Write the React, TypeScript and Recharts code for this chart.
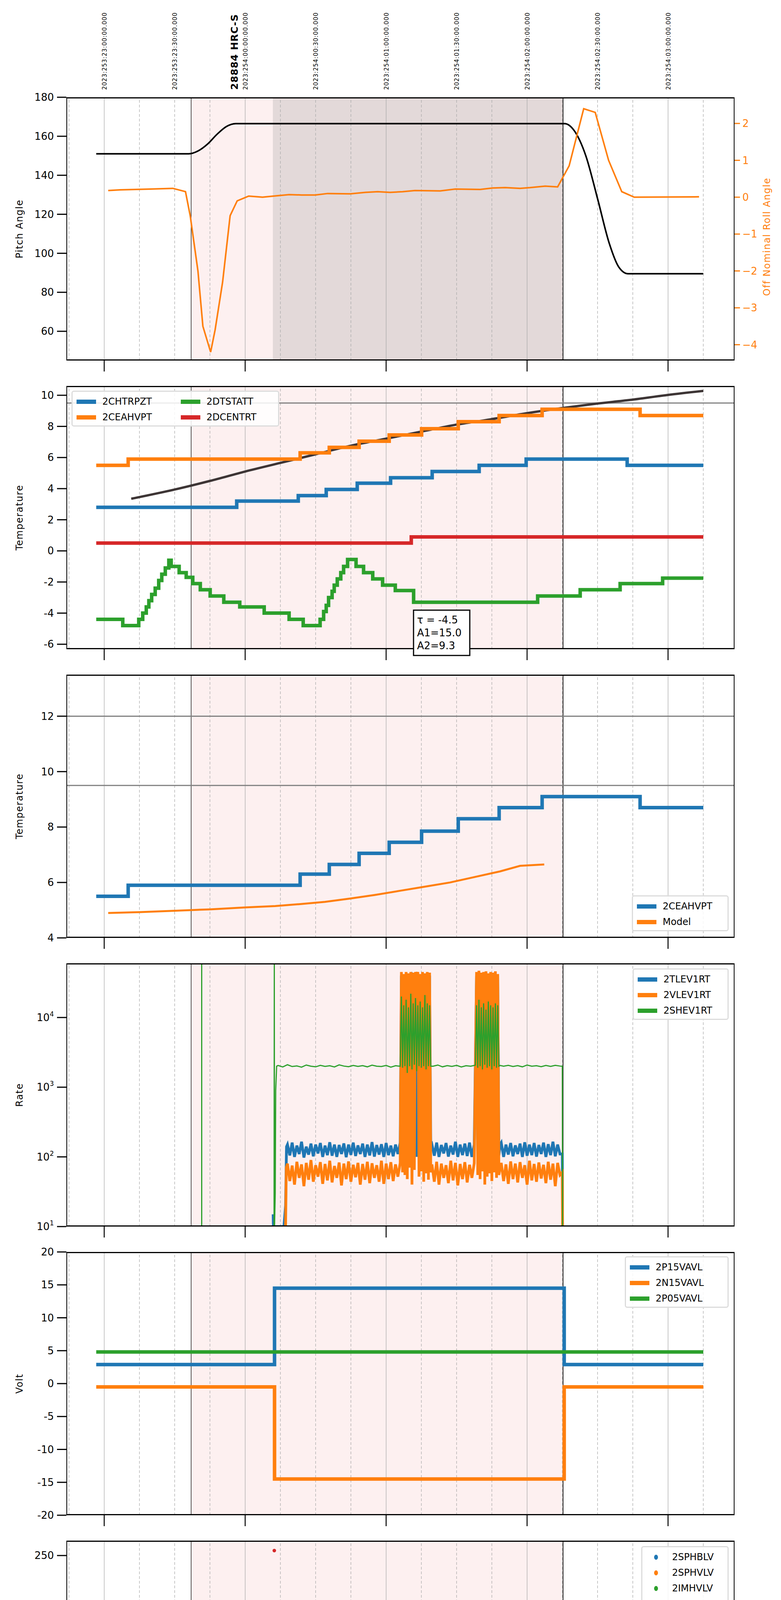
import React from 'react';
import {
  ComposedChart,
  Line,
  Scatter,
  XAxis,
  YAxis,
  ReferenceLine,
  ReferenceArea,
} from 'recharts';

type Pt = { t: number | null; v: number | null };

const C_BLUE = '#1f77b4';
const C_ORANGE = '#ff7f0e';
const C_GREEN = '#2ca02c';
const C_RED = '#d62728';

// time axis: minutes after 19:00 local
const X_MIN = -16.1;
const X_MAX = 268.3;
const PLOT_L = 170;
const PLOT_R = 1881;
const PLOT_H = 674;
const PAD_TOP = 24;
const PANEL_TOP = [249, 988, 1727, 2466, 3205, 3944, 4683, 5421];
const OBS_START = 37;
const OBS_END = 195.3;
const RADMON_START = 71.8;

const quarterTicks = [-15, 0, 15, 30, 45, 60, 75, 90, 105, 120, 135, 150, 165, 180, 195, 210, 225, 240, 255];
const hourTicks = [0, 60, 120, 180, 240];
const topStamps = [
  [0, '2023:253:23:00:00.000'],
  [30, '2023:253:23:30:00.000'],
  [60, '2023:254:00:00:00.000'],
  [90, '2023:254:00:30:00.000'],
  [120, '2023:254:01:00:00.000'],
  [150, '2023:254:01:30:00.000'],
  [180, '2023:254:02:00:00.000'],
  [210, '2023:254:02:30:00.000'],
  [240, '2023:254:03:00:00.000'],
] as const;

const pts = (arr: number[][]): Pt[] => arr.map(([t, v]) => ({ t, v }));
const seg = (t0: number, dt: number, vals: number[]): number[][] => vals.map((v, i) => [t0 + i * dt, v]);

// ---- panel 1: pitch / roll
const pitch = pts([[-3.4, 151], [36, 151], [40, 152.5], [44, 156], [48, 161], [52, 165], [56, 166.5], [196, 166.5], [200, 163], [205, 150], [210, 128], [215, 105], [219, 93], [223, 89.5], [255, 89.5]]);
const roll = pts([[1.7, 0.18], [6.8, 0.2], [19.6, 0.22], [29.2, 0.24], [34.6, 0.15], [36.6, -0.5], [39.9, -2], [42, -3.5], [45.3, -4.2], [47.2, -3.6], [50.4, -2.3], [53.6, -0.5], [56.6, -0.1], [61.5, 0.03], [67.4, 0.0], [73.8, 0.04], [78.7, 0.07], [84, 0.06], [89.8, 0.06], [95.1, 0.1], [104.7, 0.09], [111.1, 0.13], [116.4, 0.15], [121.7, 0.13], [127, 0.15], [132.3, 0.18], [143, 0.17], [149.4, 0.22], [160, 0.21], [165.4, 0.25], [170.7, 0.26], [177, 0.24], [181.3, 0.26], [187.7, 0.3], [193, 0.28], [197.9, 0.85], [204.1, 2.4], [209, 2.3], [214.7, 1.0], [220.3, 0.15], [225.6, 0.0], [253.2, 0.01]]);

// ---- panel 2: temperatures
const chtrpzt = pts([[-3.4, 2.8], [56.4, 3.2], [82.6, 3.55], [94.5, 3.95], [107.7, 4.35], [121.9, 4.7], [139.6, 5.1], [159.6, 5.5], [179.6, 5.9], [222.6, 5.5], [255, 5.5]]);
const ceahvpt = pts([[-3.4, 5.5], [10.2, 5.9], [83.4, 6.3], [95.8, 6.65], [108.5, 7.05], [121.3, 7.45], [135.1, 7.85], [150.7, 8.3], [168.1, 8.7], [186.4, 9.1], [228.1, 8.7], [255, 8.7]]);
const dcentrt = pts([[-3.4, 0.5], [130.7, 0.9], [255, 0.9]]);
const dtstatt = pts([[-3.4, -4.4], [7.9, -4.8], [14.7, -4.4], [16.4, -4.0], [17.9, -3.6], [19, -3.2], [20.2, -2.8], [21.7, -2.4], [23.2, -1.9], [24.5, -1.5], [26, -1.1], [27.5, -0.6], [28.5, -1.0], [31.9, -1.4], [34.9, -1.7], [37.7, -2.1], [40.9, -2.5], [45.1, -2.9], [50.9, -3.3], [57.7, -3.6], [68.1, -4.0], [78.7, -4.4], [84.7, -4.8], [91.9, -4.4], [93.4, -3.9], [94.5, -3.5], [95.5, -3.0], [97, -2.6], [97.9, -2.2], [99.2, -1.8], [100.7, -1.4], [101.9, -1.0], [103.6, -0.55], [107.2, -1.0], [110.4, -1.4], [114.3, -1.8], [118.5, -2.2], [123.9, -2.55], [131.7, -2.9], [131.7, -3.3], [184.5, -2.9], [202.6, -2.5], [219.6, -2.1], [237.7, -1.75], [255, -1.75]]);
const tempModel = pts([[11.5, 3.35], [30.2, 3.95], [45.1, 4.5], [60, 5.1], [74.9, 5.65], [89.8, 6.2], [104.7, 6.75], [119.6, 7.2], [134.5, 7.65], [149.4, 8.1], [164.3, 8.45], [179.2, 8.83], [195.1, 9.18], [209, 9.45], [223.9, 9.7], [238.8, 10.0], [255, 10.28]]);

// ---- panel 3: 2CEAHVPT vs model
const ceaModel = pts([[1.7, 4.9], [15.3, 4.93], [30.2, 4.98], [45.1, 5.03], [60, 5.1], [72.8, 5.15], [83.4, 5.22], [94, 5.3], [104.7, 5.42], [115.3, 5.55], [125.9, 5.7], [136.6, 5.85], [147.2, 6.0], [157.9, 6.2], [168.5, 6.4], [177, 6.6], [187.3, 6.65]]);

// ---- panel 4: rates
const tlevRate = pts([
  [71.9, 15], [72.0, 10], [76.5, 10], [77.2, 20], [77.6, 140],
  ...seg(78, 1, [150, 105, 160, 100, 145, 110, 165, 98, 140, 108, 155, 102, 150, 112, 158, 100, 145, 106, 162, 104, 150, 100, 148, 110, 156, 99, 150, 107, 160, 103, 146, 110, 155, 100, 150, 105, 163, 101, 148, 108, 152, 100, 158, 106, 145, 102, 150, 110, 160]),
  ...seg(126.5, 0.5, [40000, 110, 40000, 120, 40000, 35000, 40000, 105, 40000, 115, 40000, 38000, 40000, 100, 40000, 125, 40000, 40000, 39000, 110, 40000, 130, 40000, 105, 40000, 140]),
  ...seg(139.5, 1, [150, 104, 160, 100, 148, 112, 158, 101, 145, 108, 165, 100, 150, 106, 155, 103, 160, 100, 150]),
  ...seg(158.5, 0.5, [40000, 120, 40000, 130, 40000, 110, 40000, 150, 38000, 125, 40000, 100, 40000, 140, 40000, 115, 40000, 130, 40000, 105, 150]),
  ...seg(169, 1, [160, 100, 150, 108, 158, 102, 146, 110, 155, 100, 162, 104, 150, 106, 158, 101, 148, 110, 160, 100, 152, 106, 165, 102, 150, 110]),
  [195, 110], [195.1, 10],
]);
const vlevRate = pts([
  [77.2, 10], [77.5, 70],
  ...seg(78, 1, [80, 45, 75, 40, 85, 50, 78, 38, 82, 47, 90, 44, 76, 52, 84, 41, 79, 46, 88, 43, 74, 50, 83, 39, 80, 48, 86, 44, 77, 51, 82, 40, 79, 47, 85, 42, 81, 50, 76, 44, 88, 41, 80, 48, 84, 45, 78, 52, 82]),
  ...seg(126.5, 0.5, [45000, 60, 42000, 55, 45000, 48, 43000, 70, 45000, 40, 44000, 65, 45000, 35000, 45000, 52, 42000, 62, 45000, 44, 43000, 58, 45000, 47, 44000, 60]),
  ...seg(139.5, 1, [78, 44, 85, 40, 80, 50, 76, 42, 88, 46, 82, 39, 79, 48, 84, 43, 77, 50, 81]),
  ...seg(158.5, 0.5, [45000, 55, 47000, 48, 44000, 62, 45000, 40, 46000, 52, 43000, 58, 45000, 45, 44000, 60, 46000, 50, 42000, 55, 70]),
  ...seg(169, 1, [82, 45, 78, 41, 86, 48, 80, 43, 84, 50, 76, 40, 88, 46, 79, 44, 83, 49, 77, 42, 85, 47, 80, 38, 82, 55]),
  [195, 60], [195.1, 10],
]);
const shevRate: Pt[] = [
  ...pts([[41.5, 10], [41.5, 60000]]),
  { t: 41.6, v: null },
  ...pts([
    [72.3, 10], [72.4, 60000], [72.5, 10], [72.8, 30], [73.0, 900], [73.4, 2000],
    ...seg(74, 2, [2050, 1950, 2100, 1980, 2020, 1940, 2080, 2000, 1960, 2060, 1990, 2030, 1950, 2090, 2010, 1970, 2050, 1990, 2040, 1960, 2070, 2000, 1980, 2050, 1940, 2030, 2000]),
    ...seg(126.5, 0.5, [20000, 1900, 15000, 2000, 18000, 1600, 14000, 2000, 22000, 1800, 16000, 2100, 19000, 1700, 15000, 2000, 17000, 1900, 14000, 2000, 21000, 1800, 16000, 2000, 15000, 2000]),
    ...seg(140, 2, [2000, 2080, 1960, 2040, 1990, 2060, 1950, 2030, 2000, 2070]),
    ...seg(158.5, 0.5, [15000, 1900, 18000, 2000, 14000, 1800, 16000, 2100, 13000, 1900, 17000, 2000, 15000, 1800, 14000, 2000, 16000, 1900, 15000, 2000, 2050]),
    ...seg(170, 2, [2000, 2060, 1980, 2040, 1960, 2080, 2000, 2030, 1970, 2050, 1990, 2060, 2010]),
    [195, 2000], [195.1, 10],
  ]),
];

// ---- panel 5: voltages
const p15 = pts([[-3.4, 2.9], [72.5, 14.5], [195.8, 2.9], [255, 2.9]]);
const n15 = pts([[-3.4, -0.5], [72.5, -14.5], [195.8, -0.5], [255, -0.5]]);
const p05 = pts([[-3.4, 4.8], [255, 4.8]]);

// ---- panel 6: HV monitors
const sphblvBand = pts([[77.5, 78], [195, 78]]);
const sphvlvBand = pts([[77.3, 70.5], [195, 70.5]]);
const sphblvDots = pts([[74.7, 118], [75.1, 102], [75.3, 101], [76.0, 97], [76.4, 92], [76.8, 87], [77.5, 82]]);
const sphvlvDots = pts([[74.7, 127], [75.3, 96], [75.7, 91], [76.2, 85], [76.6, 80], [77.3, 74], [129.8, 127], [130.4, 127], [131, 127], [131.5, 127], [134.2, 127], [158.5, 127], [161.1, 127]]);
const imhvlvDots: Pt[] = [];
const imhblvDots = pts([[72.4, 255]]);

// ---- panel 7: detector temps
const spinatm = pts([
  [72.8, 3.8], [82.3, 3.3], [91.1, 3.8], [92.2, 4.3], [93.2, 4.8], [94.2, 5.3], [95.5, 5.8], [96.7, 6.3], [98.3, 6.8], [99.6, 7.3], [101, 7.8], [102.5, 8.3], [103.2, 8.5], [106.6, 7.9], [108.9, 7.3], [111, 6.8], [113.2, 6.3], [115.8, 5.9], [119.2, 5.5], [123.9, 5.1],
  [126, -1], [126.3, 5.1], [130.7, 4.7],
  ...seg(131, 0.5, [-1, 4.7, -1, 4.7, -1, -1, 4.7, -1, 4.7, -1, -1, 4.7, -1, 4.7, -1, 4.7]),
  [139, 4.7], [142.2, 4.2],
  ...seg(158, 0.5, [-1, 4.2, -1, 4.2, -1, 4.2, -1, 4.2, -1, 4.2, 4.2, 4.2, -1, 4.2, -1, 4.2, 4.2, 4.2, -1, 4.2, 4.2]),
  [168.5, 4.2], [194.5, 4.2],
]);
const sphvatm = pts([
  [71.8, -1], [71.9, 15.0], [80.2, 15.3], [85.5, 15.6], [89.4, 15.9], [93.6, 16.2], [97.9, 16.5], [102.6, 16.8], [107.9, 17.1], [113.2, 17.4], [119.2, 17.7],
  ...seg(126, 0.5, [10.8, 17.9, 17.9, 11.0, 17.9, 11.0, 17.9, 11.0, 11.0, 17.9, 11.0, 17.9, 11.0, 17.9, 11.0, 17.9, 11.0, 17.9, 11.0, 17.9, 11.0, 17.9, 11.0, 17.9, 11.0, 17.9]),
  [139, 17.9], [140, 18.45], [149, 18.75],
  ...seg(157.9, 0.5, [11.4, 19.0, 11.4, 19.0, 11.5, 19.0, 11.6, 19.0, 11.5, 19.0, 19.0, 11.6, 19.0, 11.6, 19.0, 11.5, 19.0, 11.6, 19.0, 11.6, 19.0]),
  [168.5, 19.35], [180.7, 19.7], [185.2, 20.0], [185.6, 19.7], [194.1, 20.0], [195, -1],
]);
const iminatm = pts([
  [72.8, 0.75], [96.7, 1.05], [126, 5.1], [126.3, 1.05],
  ...seg(128.5, 0.5, [4.7, 1.05, 4.7, 4.7, 1.05, 4.7, 1.05, 4.7, 4.7, 1.05, 4.7, 4.7, 1.05, 4.7, 4.7, 4.7, 4.7, 4.7, 4.7, 1.05]),
  [138.5, 1.05],
  ...seg(158.5, 0.5, [4.2, 1.05, 4.2, 1.05, 4.2, 1.05, 1.05, 4.2, 1.05, 1.05, 1.05, 1.05, 1.05, 1.05, 4.2, 1.05, 1.05, 1.05, 1.05, 1.05, 4.2]),
  [169, 1.05], [188.8, 1.35], [194.5, 1.35],
]);
const imhvatm = pts([
  [71.7, -1], [71.8, 14.5], [93.6, 14.75], [111.7, 15.0], [114.3, 14.5], [114.6, 15.0], [125.5, 15.25],
  ...seg(126, 0.5, [18.1, 15.3, 18.1, 15.3, 18.1, 18.1, 15.3, 18.1, 15.3, 18.1, 15.3, 18.1, 15.3, 18.1, 15.3, 18.1, 15.3, 18.1, 15.3, 18.1, 15.3, 18.1, 15.3, 18.1, 15.3, 18.1]),
  [139, 15.3], [139.2, 15.6], [152.2, 15.8],
  ...seg(158, 0.5, [19.0, 15.8, 19.0, 15.8, 19.0, 15.8, 19.0, 15.8, 19.0, 15.8, 19.0, 15.8, 19.0, 15.8, 19.0, 15.8, 19.0, 15.8, 19.0, 15.8, 19.0]),
  [168.5, 16.1], [181.3, 16.4], [195, 16.4], [195.05, -1],
]);

// ---- panel 8: FEA temps
const fhtrmzt = pts([[-3.4, -10.05], [-0.6, -9.65], [54, -9.25], [80.9, -8.8], [88.7, -8.4], [96.2, -8.0], [97, -9.65], [97.3, -8.0], [102.6, -7.6], [109, -7.2], [115.3, -6.8], [121.7, -6.4], [124.8, -5.95], [125.1, -6.4], [127.7, -6.0], [134.5, -5.6], [141.3, -5.2], [148.3, -4.8], [155.3, -4.4], [164.3, -4.05], [169.6, -3.65], [177, -3.3], [184.5, -2.9], [192.4, -2.5], [200.9, -2.1], [225.6, -2.5], [246.2, -2.9], [255, -2.9]]);
const fradpyt = pts([[74.9, -10.47], [83.4, -10.05], [89.8, -9.65], [96.2, -9.25], [103, -8.8], [109.4, -8.4], [115.8, -8.0], [123, -7.6], [129.8, -7.2], [136.6, -6.8], [144, -6.4], [151, -6.0], [159.3, -5.6], [166.3, -5.2], [174.3, -4.8], [182.4, -4.45], [190.5, -4.05], [200.9, -3.65], [204.3, -4.05], [219, -4.45], [226.6, -4.85], [235.1, -5.2], [246.2, -5.6], [255, -5.6]]);
const fepratm = pts([
  [72.3, -8.4], [73.4, -7.8], [75.5, -7.4], [77.7, -7.0], [80.2, -6.6], [84.1, -6.2], [88.1, -5.8], [92.4, -5.4], [97.9, -5.0], [103.6, -4.6], [109.4, -4.2], [115.8, -3.8], [122.1, -3.4],
  ...seg(126, 0.5, [-4.65, -3.4, -3.4, -4.65, -3.4, -4.65, -3.2, -4.65, -3.2, -4.65, -3.2, -4.65, -3.2, -4.65, -3.0, -4.65, -2.9, -4.65, -2.9, -4.65, -2.9, -4.65, -2.9, -4.65, -2.9, -2.9]),
  [140.9, -2.6], [143.9, -2.2], [149.9, -1.85], [158, -4.65], [158.3, -1.5], [159, -4.65], [159.3, -1.5], [161, -4.65], [161.3, -1.5], [162.5, -4.65], [162.8, -1.4], [169.6, -1.0], [174, -0.6], [181.3, -0.2], [190.3, 0.3], [194.5, 0.3],
]);
const fe00atm = pts([
  [71.7, -11], [71.8, -7.1], [79.8, -6.7], [85.1, -6.35], [90.2, -5.95], [93.6, -5.55], [100, -5.25], [104.3, -4.9], [110, -4.55], [113.2, -5.0], [113.5, -4.55], [114.5, -4.2], [119.6, -3.8], [124.9, -3.45],
  [127.6, -11], [127.7, -3.45], [129.1, -11], [129.2, 1], [129.7, -3.2],
  ...seg(130.5, 0.5, [-11, 1, -3.2, 1, -3.2, 1, -3.2, 1, -3.2, 1, -3.2, 1, -3.2, 1, -3.2, 1, -3.2, 1, -2.8]),
  [140.9, -2.45], [145.8, -2.1], [151.5, -1.75], [154.4, -3.1], [154.7, -1.75], [157.5, -1.45],
  ...seg(158, 0.5, [1, -1.45, 1, -1.45, 1, -1.15, 1, -1.15, 1, -1.15, 1, -1.15, 1, -1.15, 1, -1.15, 1, -0.8, 1, -0.8, 1]),
  [168.5, -0.8], [174.3, -0.5], [180.7, -0.15], [187.3, 0.15], [192.4, 0.4], [195, 0.4], [195.05, -11],
]);

const xOf = (m: number) => PLOT_L + ((m - X_MIN) / (X_MAX - X_MIN)) * (PLOT_R - PLOT_L);
const FONT = 'DejaVu Sans, sans-serif';

const XTick = (props: any) => {
  const { x, y, payload, labels } = props;
  const m = payload.value as number;
  const hour = m % 60 === 0;
  const minute = ((m % 60) + 60) % 60;
  return (
    <g>
      {hour && <line x1={x} x2={x} y1={y} y2={y + (labels ? 36 : 28)} stroke="#000" strokeWidth={2.5} />}
      {labels && !hour && (
        <text x={x} y={y + 24} textAnchor="middle" fontSize={17} fontFamily={FONT} fill="#000">{minute}</text>
      )}
      {labels && hour && (
        <text x={x} y={y + 62} textAnchor="middle" fontSize={28} fontFamily={FONT} fill="#000">{19 + m / 60}h</text>
      )}
    </g>
  );
};

const LogTick = (props: any) => {
  const { x, y, payload } = props;
  const e = Math.round(Math.log10(payload.value));
  return (
    <text x={x} y={y + 9} textAnchor="end" fontSize={26} fontFamily={FONT} fill="#000">
      10<tspan dy={-12} fontSize={17}>{e}</tspan>
    </text>
  );
};

function Panel({ idx, yDomain, yTicks, yFmt, log, right, children, last }: any) {
  const axisH = last ? 80 : 40;
  const h = PAD_TOP + PLOT_H + axisH;
  return (
    <div style={{ position: 'absolute', left: 0, top: PANEL_TOP[idx] - PAD_TOP, width: 2000, height: h }}>
      <ComposedChart
        width={2000}
        height={h}
        margin={{ top: PAD_TOP, bottom: 0, left: 70, right: right ? 19 : 119 }}
      >
        <XAxis
          dataKey="t"
          type="number"
          domain={[X_MIN, X_MAX]}
          allowDataOverflow
          ticks={last ? quarterTicks : hourTicks}
          interval={0}
          axisLine={false}
          tickLine={false}
          tickSize={0}
          tickMargin={0}
          height={axisH}
          tick={<XTick labels={last} />}
        />
        <YAxis
          yAxisId="left"
          width={100}
          type="number"
          scale={log ? 'log' : 'auto'}
          domain={yDomain}
          ticks={yTicks}
          allowDataOverflow
          interval={0}
          axisLine={false}
          tickSize={24}
          tickMargin={8}
          tickLine={{ stroke: '#000', strokeWidth: 3 }}
          tick={log ? <LogTick /> : { fontSize: 26, fontFamily: FONT, fill: '#000' }}
          tickFormatter={yFmt}
        />
        {right}
        <ReferenceArea yAxisId="left" x1={OBS_START} x2={OBS_END} fill="#fdf0f0" fillOpacity={1} stroke="none" ifOverflow="hidden" />
        {idx === 0 && (
          <ReferenceArea yAxisId="left" x1={RADMON_START} x2={OBS_END} fill="#e3d9d9" fillOpacity={1} stroke="none" ifOverflow="hidden" />
        )}
        {quarterTicks.map((m) => (
          <ReferenceLine
            key={m}
            yAxisId="left"
            x={m}
            stroke="#aaaaaa"
            strokeWidth={1.3}
            strokeDasharray={m % 60 === 0 ? undefined : '7 5'}
          />
        ))}
        <ReferenceLine yAxisId="left" x={OBS_START} stroke="#000" strokeWidth={1.3} />
        <ReferenceLine yAxisId="left" x={OBS_END} stroke="#000" strokeWidth={1.8} />
        {children}
      </ComposedChart>
      <div
        style={{
          position: 'absolute', left: PLOT_L, top: PAD_TOP, width: PLOT_R - PLOT_L, height: PLOT_H,
          boxSizing: 'border-box', border: '2px solid #000', borderTopWidth: 3, borderBottomWidth: 3, pointerEvents: 'none',
        }}
      />
    </div>
  );
}

const stepLine = (key: string, data: Pt[], color: string, w: number) => (
  <Line key={key} yAxisId="left" data={data} dataKey="v" type="stepAfter" stroke={color} strokeWidth={w}
    dot={false} isAnimationActive={false} />
);

function Legend({ left, top, items, cols = 1, dots, width }: any) {
  return (
    <div style={{
      position: 'absolute', left, top, width, boxSizing: 'border-box', padding: '10px 10px 6px 10px',
      border: '3px solid #dcdcdc', borderRadius: 6, background: 'rgba(255,255,255,0.85)',
      display: 'grid', gridTemplateColumns: `repeat(${cols}, auto)`, columnGap: 28, rowGap: 10,
      fontFamily: FONT, fontSize: 24,
    }}>
      {items.map(([label, color]: [string, string]) => (
        <div key={label} style={{ display: 'flex', alignItems: 'center', height: 30 }}>
          {dots ? (
            <span style={{ width: 50, display: 'inline-flex', justifyContent: 'center' }}>
              <span style={{ width: 10, height: 13, borderRadius: '50%', background: color }} />
            </span>
          ) : (
            <span style={{ width: 50, height: 11, background: color }} />
          )}
          <span style={{ marginLeft: 16 }}>{label}</span>
        </div>
      ))}
    </div>
  );
}

export default function App() {
  const yLabels: [number, string][] = [
    [0, 'Pitch Angle'], [1, 'Temperature'], [2, 'Temperature'], [3, 'Rate'],
    [4, 'Volt'], [5, 'HV Monitor'], [6, 'Detector Temp'], [7, 'FEA Temp'],
  ];
  return (
    <div style={{ position: 'relative', margin: -8, width: 2000, height: 6200, background: '#fff', overflow: 'hidden' }}>
      <Panel
        idx={0}
        yDomain={[45, 180]}
        yTicks={[60, 80, 100, 120, 140, 160, 180]}
        right={
          <YAxis
            yAxisId="right"
            orientation="right"
            width={100}
            type="number"
            domain={[-4.43, 2.71]}
            ticks={[-4, -3, -2, -1, 0, 1, 2]}
            allowDataOverflow
            interval={0}
            axisLine={false}
            tickSize={14}
            tickMargin={6}
            tickLine={{ stroke: C_ORANGE, strokeWidth: 3 }}
            tick={{ fontSize: 26, fontFamily: FONT, fill: C_ORANGE }}
            tickFormatter={(v: number) => (v < 0 ? `\u2212${-v}` : `${v}`)}
          />
        }
      >
        <Line yAxisId="left" data={pitch} dataKey="v" type="monotone" stroke="#000" strokeWidth={4} dot={false} isAnimationActive={false} />
        <Line yAxisId="right" data={roll} dataKey="v" type="linear" stroke={C_ORANGE} strokeWidth={4} dot={false} isAnimationActive={false} />
      </Panel>

      <Panel idx={1} yDomain={[-6.32, 10.6]} yTicks={[-6, -4, -2, 0, 2, 4, 6, 8, 10]}>
        <ReferenceLine yAxisId="left" y={9.5} stroke="#808080" strokeWidth={3} />
        <Line yAxisId="left" data={tempModel} dataKey="v" type="monotone" stroke="#3d3535" strokeWidth={6} dot={false} isAnimationActive={false} />
        {stepLine('a', chtrpzt, C_BLUE, 9)}
        {stepLine('b', ceahvpt, C_ORANGE, 9)}
        {stepLine('c', dtstatt, C_GREEN, 9)}
        {stepLine('d', dcentrt, C_RED, 9)}
      </Panel>

      <Panel idx={2} yDomain={[4, 13.5]} yTicks={[4, 6, 8, 10, 12]}>
        <ReferenceLine yAxisId="left" y={12} stroke="#808080" strokeWidth={3} />
        <ReferenceLine yAxisId="left" y={9.5} stroke="#808080" strokeWidth={3} />
        {stepLine('a', ceahvpt, C_BLUE, 9)}
        <Line yAxisId="left" data={ceaModel} dataKey="v" type="linear" stroke={C_ORANGE} strokeWidth={5} dot={false} isAnimationActive={false} />
      </Panel>

      <Panel idx={3} yDomain={[10, 60000]} yTicks={[10, 100, 1000, 10000]} log>
        <Line yAxisId="left" data={tlevRate} dataKey="v" type="linear" stroke={C_BLUE} strokeWidth={7} dot={false} isAnimationActive={false} />
        <Line yAxisId="left" data={vlevRate} dataKey="v" type="linear" stroke={C_ORANGE} strokeWidth={7} dot={false} isAnimationActive={false} />
        <Line yAxisId="left" data={shevRate} dataKey="v" type="linear" stroke={C_GREEN} strokeWidth={3} dot={false} isAnimationActive={false} />
      </Panel>

      <Panel idx={4} yDomain={[-20, 20]} yTicks={[-20, -15, -10, -5, 0, 5, 10, 15, 20]}>
        {stepLine('a', p15, C_BLUE, 9)}
        {stepLine('b', n15, C_ORANGE, 9)}
        {stepLine('c', p05, C_GREEN, 9)}
      </Panel>

      <Panel idx={5} yDomain={[0, 265]} yTicks={[0, 50, 100, 150, 200, 250]}>
        <Line yAxisId="left" data={sphblvBand} dataKey="v" stroke={C_BLUE} strokeWidth={14} dot={false} isAnimationActive={false} />
        <Line yAxisId="left" data={sphvlvBand} dataKey="v" stroke={C_ORANGE} strokeWidth={12} dot={false} isAnimationActive={false} />
        <Scatter yAxisId="left" data={sphblvDots} dataKey="v" fill={C_BLUE} isAnimationActive={false} />
        <Scatter yAxisId="left" data={sphvlvDots} dataKey="v" fill={C_ORANGE} isAnimationActive={false} />
        <Scatter yAxisId="left" data={imhvlvDots} dataKey="v" fill={C_GREEN} isAnimationActive={false} />
        <Scatter yAxisId="left" data={imhblvDots} dataKey="v" fill={C_RED} isAnimationActive={false} />
      </Panel>

      <Panel idx={6} yDomain={[-0.25, 20.47]} yTicks={[0, 2.5, 5, 7.5, 10, 12.5, 15, 17.5, 20]} yFmt={(v: number) => v.toFixed(1)}>
        {stepLine('a', spinatm, C_BLUE, 9)}
        {stepLine('b', sphvatm, C_ORANGE, 9)}
        {stepLine('c', iminatm, C_GREEN, 9)}
        {stepLine('d', imhvatm, C_RED, 9)}
      </Panel>

      <Panel idx={7} yDomain={[-10.72, 0.37]} yTicks={[-10, -8, -6, -4, -2, 0]} last>
        {stepLine('a', fhtrmzt, C_BLUE, 9)}
        {stepLine('b', fradpyt, C_ORANGE, 9)}
        {stepLine('c', fepratm, C_GREEN, 9)}
        {stepLine('d', fe00atm, C_RED, 9)}
      </Panel>

      <Legend left={183} top={1000} width={532} cols={2}
        items={[['2CHTRPZT', C_BLUE], ['2DTSTATT', C_GREEN], ['2CEAHVPT', C_ORANGE], ['2DCENTRT', C_RED]]} />
      <Legend left={1618} top={2292} width={248} items={[['2CEAHVPT', C_BLUE], ['Model', C_ORANGE]]} />
      <Legend left={1620} top={2479} width={246} items={[['2TLEV1RT', C_BLUE], ['2VLEV1RT', C_ORANGE], ['2SHEV1RT', C_GREEN]]} />
      <Legend left={1600} top={3216} width={266} items={[['2P15VAVL', C_BLUE], ['2N15VAVL', C_ORANGE], ['2P05VAVL', C_GREEN]]} />
      <Legend left={1642} top={3958} width={224} dots items={[['2SPHBLV', C_BLUE], ['2SPHVLV', C_ORANGE], ['2IMHVLV', C_GREEN], ['2IMHBLV', C_RED]]} />
      <Legend left={1618} top={4695} width={248} items={[['2SPINATM', C_BLUE], ['2SPHVATM', C_ORANGE], ['2IMINATM', C_GREEN], ['2IMHVATM', C_RED]]} />
      <Legend left={183} top={5434} width={254} items={[['2FHTRMZT', C_BLUE], ['2FRADPYT', C_ORANGE], ['2FEPRATM', C_GREEN], ['2FE00ATM', C_RED]]} />

      <svg width={2000} height={6200} style={{ position: 'absolute', left: 0, top: 0, pointerEvents: 'none' }}>
        {topStamps.map(([m, s]) => (
          <text key={s} transform={`translate(${xOf(m) + 6},230) rotate(-90)`} fontSize={15} fontFamily={FONT} letterSpacing={1} fill="#000">{s}</text>
        ))}
        <text transform={`translate(${xOf(55.3) + 9},230) rotate(-90)`} fontSize={25} fontWeight="bold" fontFamily={FONT} letterSpacing={1} fill="#000">28884 HRC-S</text>
        {yLabels.map(([i, s]) => (
          <text key={i} transform={`translate(58,${PANEL_TOP[i] + PLOT_H / 2}) rotate(-90)`} textAnchor="middle" fontSize={24} fontFamily={FONT} letterSpacing={1.5} fill="#000">{s}</text>
        ))}
        <text transform={`translate(1972,${PANEL_TOP[0] + PLOT_H / 2 + 20}) rotate(-90)`} textAnchor="middle" fontSize={24} fontFamily={FONT} letterSpacing={1.5} fill={C_ORANGE}>Off Nominal Roll Angle</text>
        <rect x={1059} y={1562} width={144} height={116} fill="#fff" stroke="#000" strokeWidth={3} />
        <text x={1068} y={1596} fontSize={26} fontFamily={FONT}>{'\u03c4 = -4.5'}</text>
        <text x={1068} y={1629} fontSize={26} fontFamily={FONT}>A1=15.0</text>
        <text x={1068} y={1662} fontSize={26} fontFamily={FONT}>A2=9.3</text>
        <text x={(PLOT_L + PLOT_R) / 2} y={6194} textAnchor="middle" fontSize={30} fontFamily={FONT}>2023-09-11 (254)</text>
      </svg>
    </div>
  );
}
